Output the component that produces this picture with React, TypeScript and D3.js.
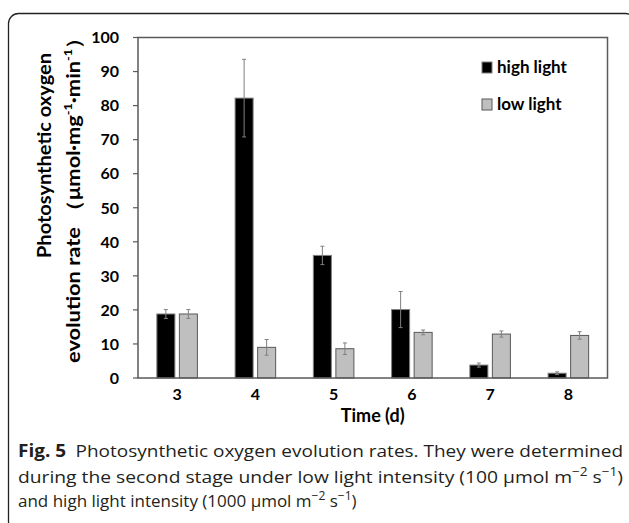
import React from "react";
import * as d3 from "d3";

// Sampling days and measured rates (μmol·mg⁻¹·min⁻¹)
const days = ["3", "4", "5", "6", "7", "8"];
const seriesNames = ["high light", "low light"];
const highLight = [18.8, 82.2, 36.0, 20.1, 3.8, 1.4];
const highLightErr = [1.3, 11.4, 2.7, 5.3, 0.6, 0.4];
const lowLight = [18.8, 9.0, 8.6, 13.4, 12.9, 12.5];
const lowLightErr = [1.3, 2.3, 1.7, 0.7, 0.9, 1.1];
const yTicks = [0, 10, 20, 30, 40, 50, 60, 70, 80, 90, 100];

const W = 629;
const H = 523;
const plot = { left: 138, right: 607.5, top: 37.5, bottom: 378 };
const chartFont = "Lato, 'DejaVu Sans', sans-serif";
const captionFont = "'Open Sans', 'Noto Sans', sans-serif";
const fills = ["#000000", "#bfbfbf"];
const strokes = ["#7f7f7f", "#595959"];

export default function App() {
  const x0 = d3
    .scaleBand<string>()
    .domain(days)
    .range([plot.left, plot.right])
    .paddingInner(0.482)
    .paddingOuter(0.241);
  const x1 = d3
    .scaleBand<string>()
    .domain(seriesNames)
    .range([0, x0.bandwidth()])
    .paddingInner(0.2);
  const y = d3.scaleLinear().domain([0, 100]).range([plot.bottom, plot.top]);

  const series = [
    { name: seriesNames[0], values: highLight, errs: highLightErr },
    { name: seriesNames[1], values: lowLight, errs: lowLightErr },
  ];

  const capW = 4;

  return (
    <svg
      width={W}
      height={H}
      viewBox={`0 0 ${W} ${H}`}
      style={{ position: "absolute", left: 0, top: 0, background: "#fff" }}
    >
      {/* figure frame */}
      <rect
        x={8.5}
        y={13.5}
        width={627}
        height={518}
        rx={10}
        fill="none"
        stroke="#222"
        strokeWidth={1.3}
      />

      {/* bars */}
      {series.map((s, si) =>
        s.values.map((v, i) => {
          const bx = (x0(days[i]) ?? 0) + (x1(s.name) ?? 0);
          const bw = x1.bandwidth();
          return (
            <rect
              key={`${si}-${i}`}
              x={bx}
              y={y(v)}
              width={bw}
              height={y(0) - y(v)}
              fill={fills[si]}
              stroke={strokes[si]}
              strokeWidth={1}
            />
          );
        })
      )}

      {/* error bars */}
      {series.map((s, si) =>
        s.values.map((v, i) => {
          const cx = (x0(days[i]) ?? 0) + (x1(s.name) ?? 0) + x1.bandwidth() / 2;
          const hi = y(v + s.errs[i]);
          const lo = y(v - s.errs[i]);
          return (
            <g key={`e${si}-${i}`} stroke="#808080" strokeWidth={1}>
              <line x1={cx} x2={cx} y1={hi} y2={lo} />
              <line x1={cx - capW / 2} x2={cx + capW / 2} y1={hi} y2={hi} />
              <line x1={cx - capW / 2} x2={cx + capW / 2} y1={lo} y2={lo} />
            </g>
          );
        })
      )}

      {/* plot frame / axes */}
      <rect
        x={plot.left}
        y={plot.top}
        width={plot.right - plot.left}
        height={plot.bottom - plot.top}
        fill="none"
        stroke="#5a5a5a"
        strokeWidth={1.5}
      />

      {/* y ticks and labels */}
      {yTicks.map((t) => (
        <g key={t}>
          <line
            x1={plot.left - 5}
            x2={plot.left}
            y1={y(t)}
            y2={y(t)}
            stroke="#5a5a5a"
            strokeWidth={1.2}
          />
          <text
            x={119}
            y={y(t)}
            dy="0.36em"
            textAnchor="end"
            fontFamily={chartFont}
            fontWeight="bold"
            fontSize={16}
            fill="#000"
          >
            {t}
          </text>
        </g>
      ))}

      {/* x labels */}
      {days.map((d) => (
        <text
          key={d}
          x={(x0(d) ?? 0) + x0.bandwidth() / 2}
          y={400}
          textAnchor="middle"
          fontFamily={chartFont}
          fontWeight="bold"
          fontSize={16}
          fill="#000"
        >
          {d}
        </text>
      ))}

      <text
        x={(plot.left + plot.right) / 2}
        y={422}
        textAnchor="middle"
        fontFamily={chartFont}
        fontWeight="bold"
        fontSize={18}
        fill="#000"
      >
        Time (d)
      </text>

      {/* y axis title */}
      <text
        transform="translate(51,258) rotate(-90)"
        fontFamily={chartFont}
        fontWeight="bold"
        fontSize={19}
        fill="#000"
        textLength={205}
        lengthAdjust="spacingAndGlyphs"
      >
        Photosynthetic oxygen
      </text>
      <text
        transform="translate(80,363) rotate(-90)"
        fontFamily={chartFont}
        fontWeight="bold"
        fontSize={19}
        fill="#000"
        textLength={336}
        lengthAdjust="spacingAndGlyphs"
      >
        evolution rate （μmol·mg
        <tspan fontSize={11} dy={-8}>-1</tspan>
        <tspan dy={8}>·min</tspan>
        <tspan fontSize={11} dy={-8}>-1</tspan>
        <tspan dy={8}>）</tspan>
      </text>

      {/* legend */}
      {seriesNames.map((n, i) => (
        <g key={n}>
          <rect
            x={482}
            y={62 + i * 37}
            width={10}
            height={11}
            fill={fills[i]}
            stroke={strokes[i]}
            strokeWidth={1}
          />
          <text
            x={497}
            y={73 + i * 37}
            fontFamily={chartFont}
            fontWeight="bold"
            fontSize={17}
            fill="#000"
          >
            {n}
          </text>
        </g>
      ))}

      {/* caption */}
      <g fontFamily={captionFont} fontSize={17} fill="#231f20">
        <text x={18} y={457} textLength={605} lengthAdjust="spacingAndGlyphs">
          <tspan fontWeight="bold">Fig. 5</tspan>
          <tspan>{"\u2002Photosynthetic oxygen evolution rates. They were determined"}</tspan>
        </text>
        <text x={18} y={483} textLength={605} lengthAdjust="spacingAndGlyphs">
          during the second stage under low light intensity (100 μmol m
          <tspan fontSize={12} dy={-7}>−2</tspan>
          <tspan dy={7}> s</tspan>
          <tspan fontSize={12} dy={-7}>−1</tspan>
          <tspan dy={7}>)</tspan>
        </text>
        <text x={18} y={507}>
          and high light intensity (1000 μmol m
          <tspan fontSize={12} dy={-7}>−2</tspan>
          <tspan dy={7}> s</tspan>
          <tspan fontSize={12} dy={-7}>−1</tspan>
          <tspan dy={7}>)</tspan>
        </text>
      </g>
    </svg>
  );
}
